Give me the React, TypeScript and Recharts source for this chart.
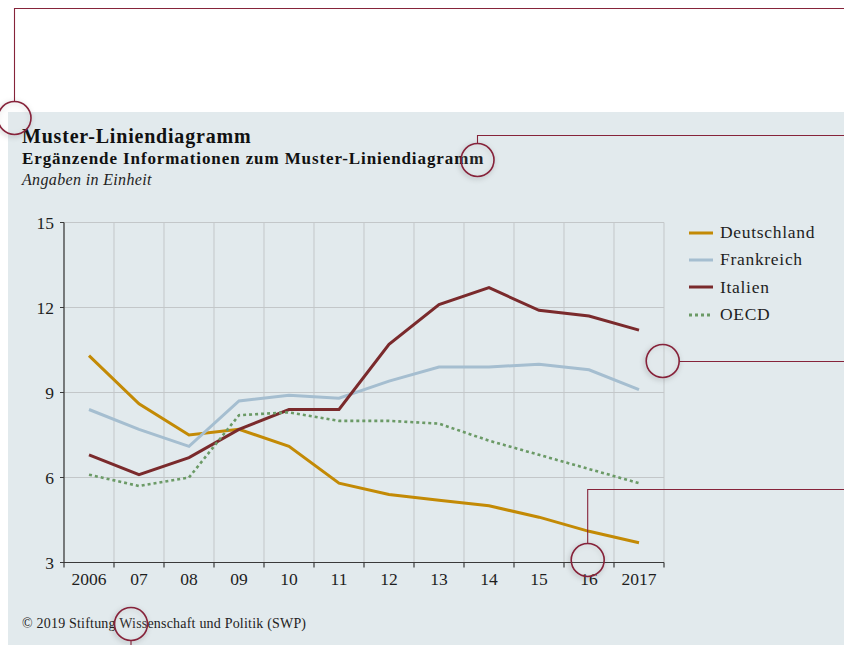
import { CartesianGrid, Legend, Line, LineChart, XAxis, YAxis } from "recharts";

const jahre = [2006, 2007, 2008, 2009, 2010, 2011, 2012, 2013, 2014, 2015, 2016, 2017];
const jahrLabels = ["2006", "07", "08", "09", "10", "11", "12", "13", "14", "15", "16", "2017"];
const deutschland = [10.3, 8.6, 7.5, 7.7, 7.1, 5.8, 5.4, 5.2, 5.0, 4.6, 4.1, 3.7];
const frankreich = [8.4, 7.7, 7.1, 8.7, 8.9, 8.8, 9.4, 9.9, 9.9, 10.0, 9.8, 9.1];
const italien = [6.8, 6.1, 6.7, 7.7, 8.4, 8.4, 10.7, 12.1, 12.7, 11.9, 11.7, 11.2];
const oecd = [6.1, 5.7, 6.0, 8.2, 8.3, 8.0, 8.0, 7.9, 7.3, 6.8, 6.3, 5.8];
const yTicks = [3, 6, 9, 12, 15];

const serien = [
  { key: "deutschland", name: "Deutschland", farbe: "#c38a05", dash: undefined },
  { key: "frankreich", name: "Frankreich", farbe: "#a5bed0", dash: undefined },
  { key: "italien", name: "Italien", farbe: "#7a2a2c", dash: undefined },
  { key: "oecd", name: "OECD", farbe: "#6b9a66", dash: "3 3" },
];

const daten = jahre.map((jahr, i) => ({
  jahr,
  deutschland: deutschland[i],
  frankreich: frankreich[i],
  italien: italien[i],
  oecd: oecd[i],
}));

// Grenzen zwischen den Jahren: dort sitzen Gitterlinien und Striche
const grenzen = [...jahre.map((j) => j - 0.5), jahre[jahre.length - 1] + 0.5];

const FONT = "'Liberation Serif', 'DejaVu Serif', serif";
const ANNO = "#86243a";
const PLOT_LEFT = 64;
const PLOT_RIGHT = 664;
const SCHRITT = (PLOT_RIGHT - PLOT_LEFT) / jahre.length;

function JahrTick(props: any) {
  const { x, y, payload } = props;
  // Beschriftung gehört zum Jahr links von der Grenze
  const idx = jahre.indexOf(payload.value - 0.5);
  return (
    <g>
      <line x1={x} x2={x} y1={y} y2={y + 5} stroke="#3a3a3a" strokeWidth={1.2} />
      {idx >= 0 && (
        <text
          x={x - SCHRITT / 2}
          y={y + 22}
          textAnchor="middle"
          fontFamily={FONT}
          fontSize={17.5}
          fill="#1e1e1e"
        >
          {jahrLabels[idx]}
        </text>
      )}
    </g>
  );
}

function LegendeInhalt() {
  return (
    <div style={{ fontFamily: FONT, fontSize: 17.5, letterSpacing: 0.7, color: "#1e1e1e" }}>
      {serien.map((s) => (
        <div key={s.key} style={{ display: "flex", alignItems: "center", height: 27.3 }}>
          <svg width={26} height={6} style={{ marginRight: 6 }}>
            <line
              x1={1}
              x2={25}
              y1={3}
              y2={3}
              stroke={s.farbe}
              strokeWidth={3}
              strokeDasharray={s.dash}
            />
          </svg>
          {s.name}
        </div>
      ))}
    </div>
  );
}

function Kreis({ cx, cy }: { cx: number; cy: number }) {
  return (
    <circle
      cx={cx}
      cy={cy}
      r={16.5}
      fill="rgba(255,255,255,0.06)"
      stroke={ANNO}
      strokeWidth={1.6}
      filter="url(#schatten)"
    />
  );
}

export default function App() {
  return (
    <div
      style={{
        position: "absolute",
        left: 0,
        top: 0,
        width: 844,
        height: 645,
        overflow: "hidden",
        background: "#ffffff",
      }}
    >
      <div
        style={{ position: "absolute", left: 8, top: 112, right: 0, bottom: 0, background: "#e2eaed" }}
      />
      <svg
        width={844}
        height={645}
        style={{ position: "absolute", left: 0, top: 0 }}
        fontFamily={FONT}
      >
        <text x={22} y={143} fontSize={20} fontWeight="bold" letterSpacing={0.8} fill="#111">
          Muster-Liniendiagramm
        </text>
        <text x={22} y={164} fontSize={17} fontWeight="bold" letterSpacing={0.9} fill="#111">
          Ergänzende Informationen zum Muster-Liniendiagramm
        </text>
        <text x={22} y={185} fontSize={16} fontStyle="italic" letterSpacing={0.35} fill="#222">
          Angaben in Einheit
        </text>
        <text x={22} y={628} fontSize={14} letterSpacing={0.2} fill="#222">
          © 2019 Stiftung Wissenschaft und Politik (SWP)
        </text>
      </svg>
      <div style={{ position: "absolute", left: 0, top: 0 }}>
        <LineChart
          width={844}
          height={645}
          data={daten}
          margin={{ top: 222.5, right: 844 - PLOT_RIGHT, bottom: 52.5, left: 24 }}
        >
          <CartesianGrid stroke="#c3c7c9" strokeWidth={1} />
          <XAxis
            dataKey="jahr"
            type="number"
            domain={[grenzen[0], grenzen[grenzen.length - 1]]}
            ticks={grenzen}
            tick={<JahrTick />}
            tickLine={false}
            tickSize={0}
            tickMargin={0}
            axisLine={{ stroke: "#3a3a3a", strokeWidth: 1.2 }}
            height={30}
            interval={0}
          />
          <YAxis
            domain={[3, 15]}
            ticks={yTicks}
            width={40}
            tickSize={4}
            tickMargin={6}
            tickLine={{ stroke: "#3a3a3a" }}
            axisLine={{ stroke: "#3a3a3a", strokeWidth: 1.2 }}
            tick={{ fontFamily: FONT, fontSize: 17.5, fill: "#1e1e1e" }}
            interval={0}
          />
          <Legend
            layout="horizontal"
            verticalAlign="middle"
            align="center"
            content={<LegendeInhalt />}
            wrapperStyle={{ left: 688, top: 219, width: 150 }}
          />
          {serien.map((s) => (
            <Line
              key={s.key}
              dataKey={s.key}
              name={s.name}
              stroke={s.farbe}
              strokeWidth={s.dash ? 2.6 : 3}
              strokeDasharray={s.dash}
              dot={false}
              activeDot={false}
              type="linear"
              isAnimationActive={false}
            />
          ))}
        </LineChart>
      </div>
      <svg
        width={844}
        height={645}
        style={{ position: "absolute", left: 0, top: 0, pointerEvents: "none" }}
      >
        <defs>
          <filter id="schatten" x="-50%" y="-50%" width="200%" height="200%">
            <feDropShadow dx={-1} dy={1.5} stdDeviation={2.5} floodColor="#000" floodOpacity={0.3} />
          </filter>
        </defs>
        <g fill="none" stroke={ANNO} strokeWidth={1.1}>
          <path d="M14.5 101.5 V8.5 H844" />
          <path d="M477.5 143.5 V135.5 H844" />
          <path d="M679.2 361.5 H844" />
          <path d="M587.7 543.3 V489.5 H844" />
          <path d="M131 640.5 V645" />
        </g>
        <Kreis cx={14.5} cy={118} />
        <Kreis cx={477.5} cy={160} />
        <Kreis cx={662.7} cy={361} />
        <Kreis cx={587.7} cy={560} />
        <Kreis cx={131} cy={624} />
      </svg>
    </div>
  );
}
